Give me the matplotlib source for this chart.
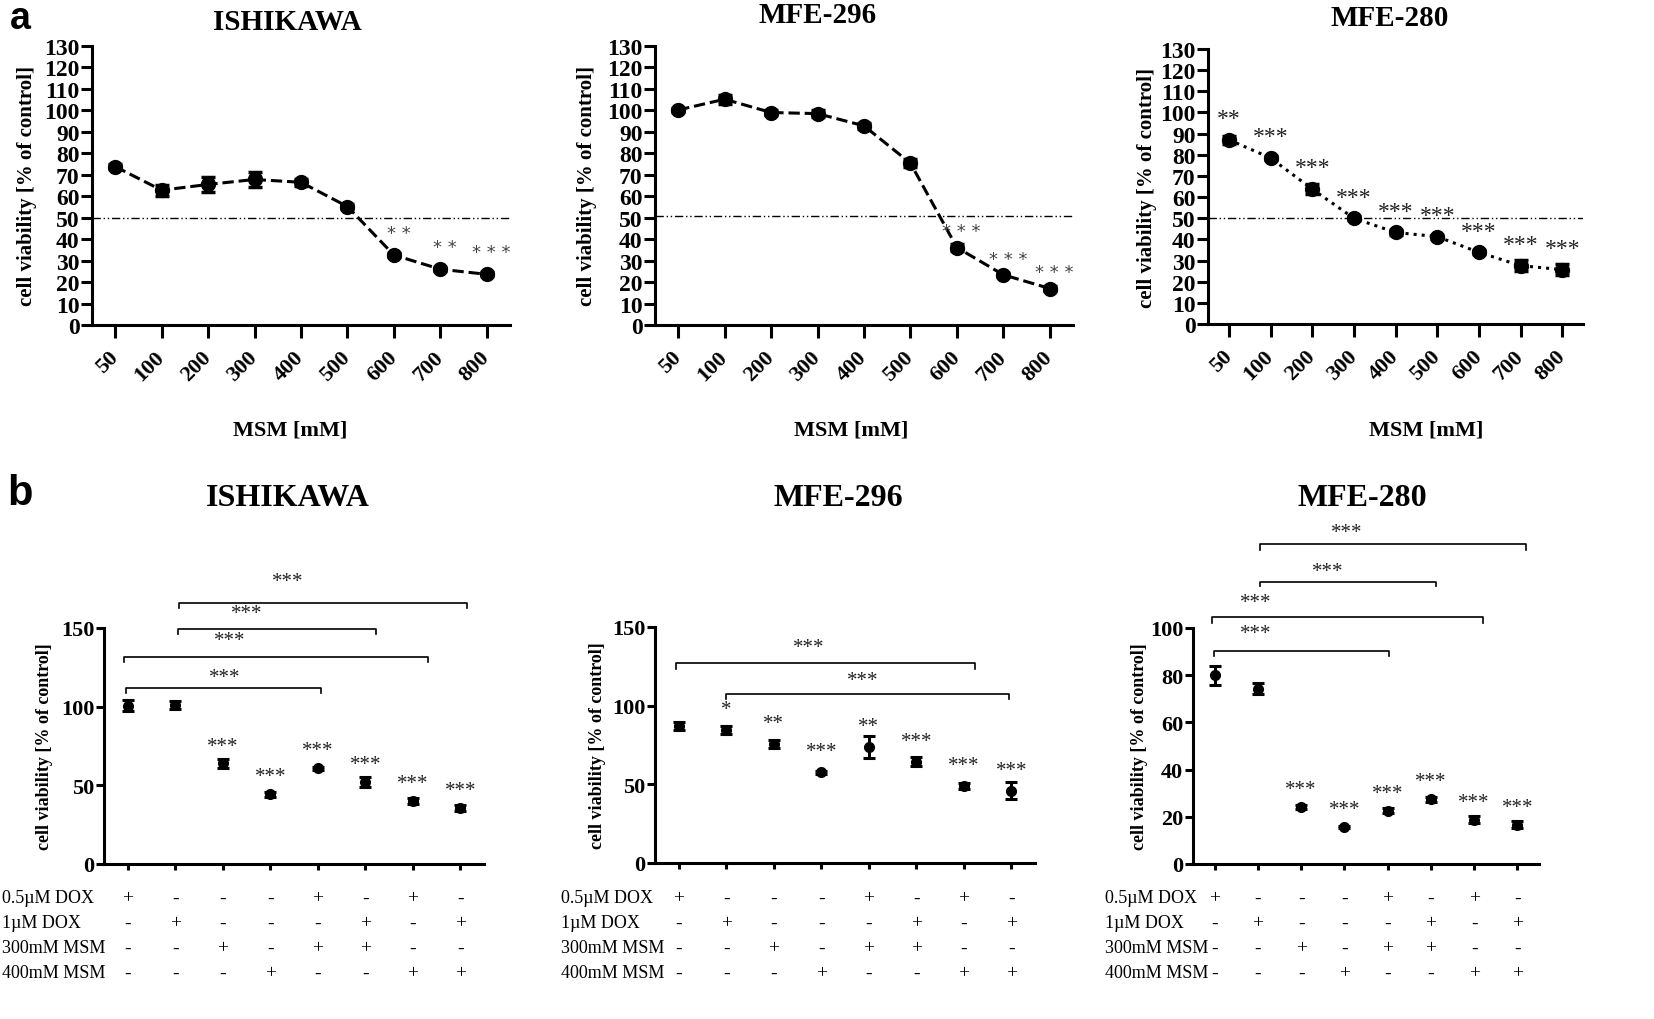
import numpy as np
import matplotlib.pyplot as plt
from matplotlib.transforms import blended_transform_factory

plt.rcParams['font.family'] = 'Liberation Serif'

W, H = 1654, 1020

# ---------------- panel a : dose response ----------------
doses = ['50', '100', '200', '300', '400', '500', '600', '700', '800']

ish_a = [73.8, 62.8, 65.5, 67.8, 66.5, 55.2, 32.6, 26.0, 23.6]
ish_a_err = [1.0, 2.5, 3.5, 3.5, 1.5, 1.0, 1.0, 1.0, 1.0]
ish_a_sig = ['', '', '', '', '', '', '**', '**', '***']

m296_a = [100.2, 105.2, 99.0, 98.5, 92.8, 75.4, 36.1, 23.4, 17.0]
m296_a_err = [1.0, 2.0, 1.0, 1.5, 1.5, 2.0, 1.5, 1.0, 1.0]
m296_a_sig = ['', '', '', '', '', '', '***', '***', '***']

m280_a = [87.1, 78.5, 63.8, 50.0, 43.3, 41.3, 33.9, 27.6, 25.7]
m280_a_err = [2.0, 1.0, 2.5, 1.0, 1.0, 1.0, 1.0, 2.5, 2.5]
m280_a_sig = ['**', '***', '***', '***', '***', '***', '***', '***', '***']

# ---------------- panel b : combinations ----------------
dox05 = ['+', '-', '-', '-', '+', '-', '+', '-']
dox1 = ['-', '+', '-', '-', '-', '+', '-', '+']
msm300 = ['-', '-', '+', '-', '+', '+', '-', '-']
msm400 = ['-', '-', '-', '+', '-', '-', '+', '+']
row_names = ['0.5\u00b5M DOX', '1\u00b5M DOX', '300mM MSM', '400mM MSM']

ish_b = [100.6, 101.0, 63.9, 44.3, 60.9, 52.0, 40.1, 35.6]
ish_b_err = [3.5, 2.5, 3.0, 1.5, 1.0, 3.0, 2.0, 2.0]
ish_b_sig = ['', '', '***', '***', '***', '***', '***', '***']
# (start, end, bar level, tip level, label x, label y)
ish_b_brackets = [(-0.03, 4.07, 112.0, 108.6, 2.04, 118.8),
                  (-0.08, 6.33, 131.3, 128.4, 2.14, 142.2),
                  (1.05, 5.22, 149.6, 146.4, 2.50, 159.0),
                  (1.07, 7.14, 166.0, 162.7, 3.37, 179.3)]

m296_b = [87.3, 84.7, 75.6, 57.7, 73.7, 64.4, 49.0, 46.0]
m296_b_err = [2.5, 2.5, 2.5, 1.0, 6.9, 3.0, 2.0, 5.3]
m296_b_sig = ['', '*', '**', '***', '**', '***', '***', '***']
m296_b_brackets = [(-0.05, 6.23, 127.0, 123.2, 2.74, 136.9),
                   (1.00, 6.95, 107.3, 104.2, 3.87, 115.8)]

m280_b = [79.9, 74.3, 24.0, 15.6, 22.6, 27.4, 18.7, 16.7]
m280_b_err = [4.2, 2.3, 0.8, 0.5, 1.0, 1.0, 1.5, 1.5]
m280_b_sig = ['', '', '***', '***', '***', '***', '***', '***']
m280_b_brackets = [(-0.02, 4.03, 90.1, 88.1, 0.96, 97.6),
                   (-0.06, 6.21, 104.5, 102.3, 0.96, 110.6),
                   (1.06, 5.13, 119.5, 117.7, 2.62, 124.0),
                   (1.06, 7.19, 135.4, 133.2, 3.06, 140.3)]

fig = plt.figure(figsize=(W / 100, H / 100), dpi=100)


def add_ax(l, t, r, b):
    return fig.add_axes([l / W, 1 - b / H, (r - l) / W, (b - t) / H])


def ftext(x, y, s, **kw):
    fig.text(x / W, 1 - y / H, s, **kw)


def style_ax(ax):
    for s in ['top', 'right']:
        ax.spines[s].set_visible(False)
    for s in ['left', 'bottom']:
        ax.spines[s].set_linewidth(2.2)


# ---- top row ----
top_boxes = [(92, 47, 510, 326), (655, 47, 1073, 326), (1208, 50, 1583, 325)]
top_vals = [ish_a, m296_a, m280_a]
top_errs = [ish_a_err, m296_a_err, m280_a_err]
top_sigs = [ish_a_sig, m296_a_sig, m280_a_sig]
top_ls = ['--', '--', ':']
top_half = [50, 51, 50]
top_off = [10.5, 7.5, 10.0]
top_titles = [('ISHIKAWA', 287, 22), ('MFE-296', 818, 16), ('MFE-280', 1390, 19)]
top_ylab_x = [27, 587, 1147]
top_msm_x = [290, 851, 1426]

x = np.arange(len(doses))
for k in range(3):
    ax = add_ax(*top_boxes[k])
    style_ax(ax)
    ax.axhline(top_half[k], color='k', lw=1.0, dashes=(6, 2, 1, 2, 1, 2))
    ax.plot(x, top_vals[k], color='k', lw=2.2, ls=top_ls[k])
    ax.errorbar(x, top_vals[k], yerr=top_errs[k], fmt='o', color='k',
                ms=10, capsize=5, capthick=2.5, elinewidth=2.5)
    for i, s in enumerate(top_sigs[k]):
        if not s:
            continue
        if k < 2:
            ax.text(i + 0.1, top_vals[k][i] + top_off[k], ' '.join(s),
                    ha='center', va='center', fontsize=13, color='#444',
                    family='DejaVu Sans')
        else:
            ax.text(i, top_vals[k][i] + top_off[k], s, ha='center',
                    va='center', fontsize=17, color='#222')
    ax.set_xlim(-0.5, 8.5)
    ax.set_ylim(0, 130)
    ax.set_yticks(np.arange(0, 131, 10))
    ax.set_xticks(x)
    ax.set_xticklabels(doses, rotation=45, ha='right', va='center',
                       rotation_mode='anchor', fontweight='bold', fontsize=16)
    ax.tick_params(axis='x', length=9, width=2.2, pad=12)
    ax.tick_params(axis='y', length=8, width=2.2, pad=1, labelsize=17)
    for t in ax.get_yticklabels():
        t.set_fontweight('bold')
    title, tx, ty = top_titles[k]
    ftext(tx, ty, title, ha='center', va='center', fontsize=21,
          fontweight='bold')
    ftext(top_ylab_x[k], (top_boxes[k][1] + top_boxes[k][3]) / 2,
          'cell viability [% of control]', rotation=90, ha='center',
          va='center', fontsize=15, fontweight='bold')
    ftext(top_msm_x[k], 430, 'MSM [mM]', ha='center', va='center',
          fontsize=16, fontweight='bold')

# ---- bottom row ----
bot_boxes = [(104, 629, 484, 865), (655, 628, 1035, 864), (1193, 629, 1539, 865)]
bot_vals = [ish_b, m296_b, m280_b]
bot_errs = [ish_b_err, m296_b_err, m280_b_err]
bot_sigs = [ish_b_sig, m296_b_sig, m280_b_sig]
bot_brackets = [ish_b_brackets, m296_b_brackets, m280_b_brackets]
bot_ymax = [150, 150, 100]
bot_ystep = [50, 50, 20]
bot_off = [11.0, 13.0, 7.4]
bot_titles = [('ISHIKAWA', 288, 498), ('MFE-296', 838, 498), ('MFE-280', 1362, 498)]
bot_ylab_x = [45, 597, 1140]
bot_row_x = [2, 561, 1105]
row_y = [899, 924, 949, 974]
rows = [dox05, dox1, msm300, msm400]

g = np.arange(len(ish_b))
for k in range(3):
    ax = add_ax(*bot_boxes[k])
    style_ax(ax)
    ax.errorbar(g, bot_vals[k], yerr=bot_errs[k], fmt='o', color='k',
                ms=7, capsize=4.5, capthick=2.2, elinewidth=2.2)
    for i, s in enumerate(bot_sigs[k]):
        if s:
            ax.text(i, bot_vals[k][i] + bot_off[k], s, ha='center',
                    va='center', fontsize=15, color='#222')
    for (a, b, yb, yt, lx, ly) in bot_brackets[k]:
        ax.plot([a, a, b, b], [yt, yb, yb, yt], color='k', lw=1.2,
                clip_on=False)
        ax.text(lx, ly, '***', ha='center', va='center', fontsize=15,
                color='#222', clip_on=False)
    ax.set_xlim(-0.5, 7.5)
    ax.set_ylim(0, bot_ymax[k])
    ax.set_yticks(np.arange(0, bot_ymax[k] + 1, bot_ystep[k]))
    ax.set_xticks(g)
    ax.set_xticklabels([])
    ax.tick_params(axis='x', length=4, width=2.2)
    ax.tick_params(axis='y', length=6, width=2.2, pad=1, labelsize=16)
    for t in ax.get_yticklabels():
        t.set_fontweight('bold')
    title, tx, ty = bot_titles[k]
    ftext(tx, ty, title, ha='center', va='center', fontsize=23,
          fontweight='bold')
    ftext(bot_ylab_x[k], (bot_boxes[k][1] + bot_boxes[k][3]) / 2,
          'cell viability [% of control]', rotation=90, ha='center',
          va='center', fontsize=13, fontweight='bold')
    tr = blended_transform_factory(ax.transData, fig.transFigure)
    for r, (name, row) in enumerate(zip(row_names, rows)):
        ftext(bot_row_x[k], row_y[r], name, ha='left', va='center',
              fontsize=13)
        for i, s in enumerate(row):
            ax.text(i, 1 - row_y[r] / H, s, transform=tr, ha='center',
                    va='center', fontsize=14, clip_on=False)

ftext(20, 1, 'a', ha='center', va='top', fontsize=27,
      fontweight='bold', family='Liberation Sans')
ftext(20, 505, 'b', ha='center', va='baseline', fontsize=30,
      fontweight='bold', family='Liberation Sans')

fig.savefig('out.png', dpi=100)
